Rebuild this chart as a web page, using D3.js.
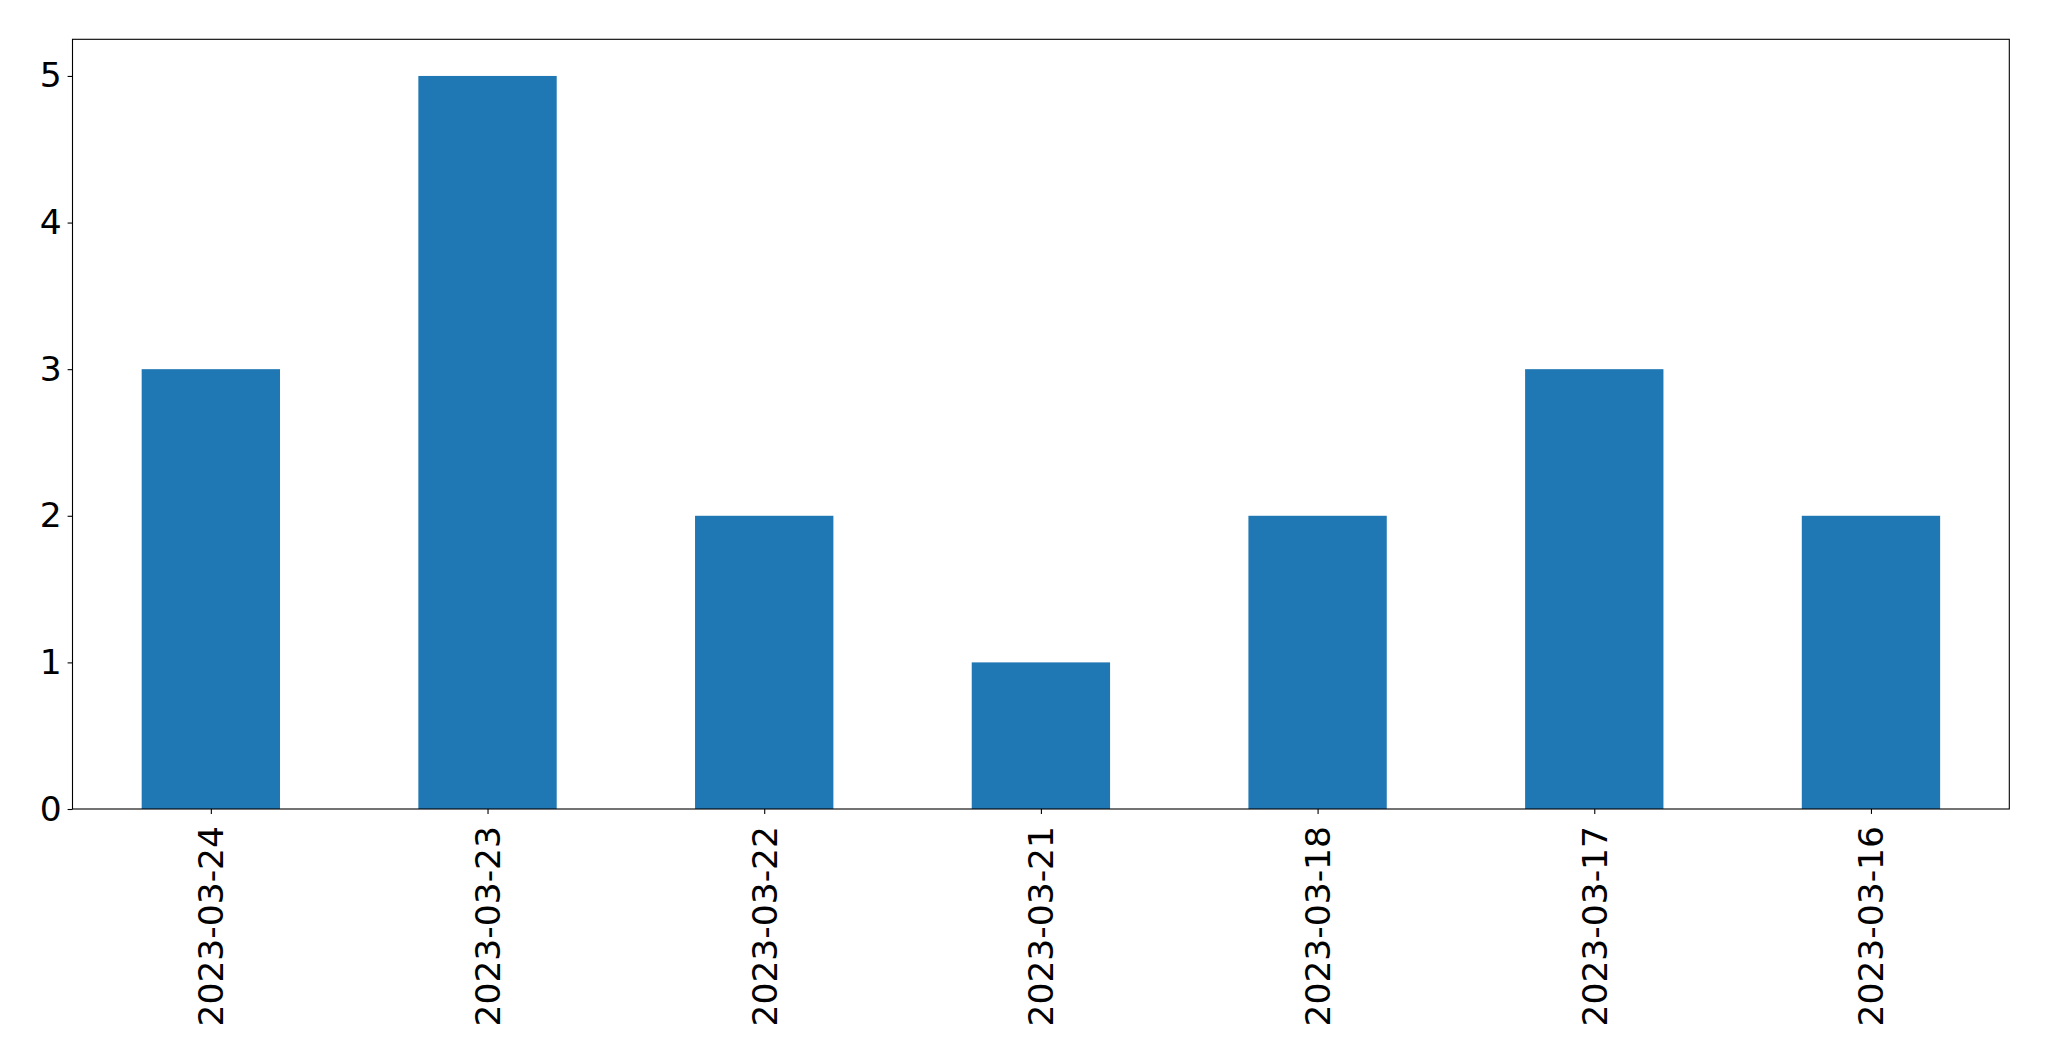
<!DOCTYPE html>
<html>
<head>
<meta charset="utf-8">
<script src="https://cdn.jsdelivr.net/npm/d3@7"></script>
<style>
  html, body { margin: 0; padding: 0; background: #ffffff; }
  svg { display: block; }
  text { font-family: "DejaVu Sans", sans-serif; fill: #000; }
</style>
</head>
<body>
<svg id="chart" width="2049" height="1061"></svg>
<script>
const categories = ["2023-03-24", "2023-03-23", "2023-03-22", "2023-03-21", "2023-03-18", "2023-03-17", "2023-03-16"];
const values = [3, 5, 2, 1, 2, 3, 2];
const yTicks = [0, 1, 2, 3, 4, 5];

const W = 2049, H = 1061;
const margin = { left: 72.5, right: W - 2009.3, top: 39.3, bottom: H - 809 };
const iw = W - margin.left - margin.right;
const ih = H - margin.top - margin.bottom;
const fontSize = 34.5;

const svg = d3.select("#chart");
const g = svg.append("g").attr("transform", `translate(${margin.left},${margin.top})`);

const x = d3.scaleLinear().domain([-0.5, categories.length - 0.5]).range([0, iw]);
const y = d3.scaleLinear().domain([0, d3.max(values) * 1.05]).range([ih, 0]);
const barW = 0.5;

g.selectAll("rect.bar").data(values).enter().append("rect")
  .attr("class", "bar")
  .attr("x", (d, i) => x(i - barW / 2))
  .attr("width", (d, i) => x(i + barW / 2) - x(i - barW / 2))
  .attr("y", d => y(d))
  .attr("height", d => y(0) - y(d))
  .attr("fill", "#1f77b4");

// Y axis
const yAxis = d3.axisLeft(y).tickValues(yTicks).tickFormat(d3.format("d")).tickSize(4.9).tickPadding(6);
const ya = g.append("g").call(yAxis);
ya.select(".domain").remove();
ya.selectAll(".tick line").attr("stroke", "#000").attr("stroke-width", 1.1);
ya.selectAll(".tick text").attr("font-size", fontSize).attr("font-family", "DejaVu Sans").attr("fill", "#000");

// X axis
const xAxis = d3.axisBottom(x).tickValues(d3.range(categories.length)).tickFormat(i => categories[i]).tickSize(4.9).tickPadding(0);
const xa = g.append("g").attr("transform", `translate(0,${ih})`).call(xAxis);
xa.select(".domain").remove();
xa.selectAll(".tick line").attr("stroke", "#000").attr("stroke-width", 1.1);
xa.selectAll(".tick text")
  .attr("font-size", fontSize)
  .attr("font-family", "DejaVu Sans")
  .attr("fill", "#000")
  .attr("text-anchor", "end")
  .attr("dy", null)
  .attr("transform", "translate(0,17) rotate(-90)")
  .attr("x", 0).attr("y", 0)
  .attr("dominant-baseline", "central");

// Frame
g.append("rect")
  .attr("x", 0).attr("y", 0).attr("width", iw).attr("height", ih)
  .attr("fill", "none").attr("stroke", "#000").attr("stroke-width", 1.1);
</script>
</body>
</html>
